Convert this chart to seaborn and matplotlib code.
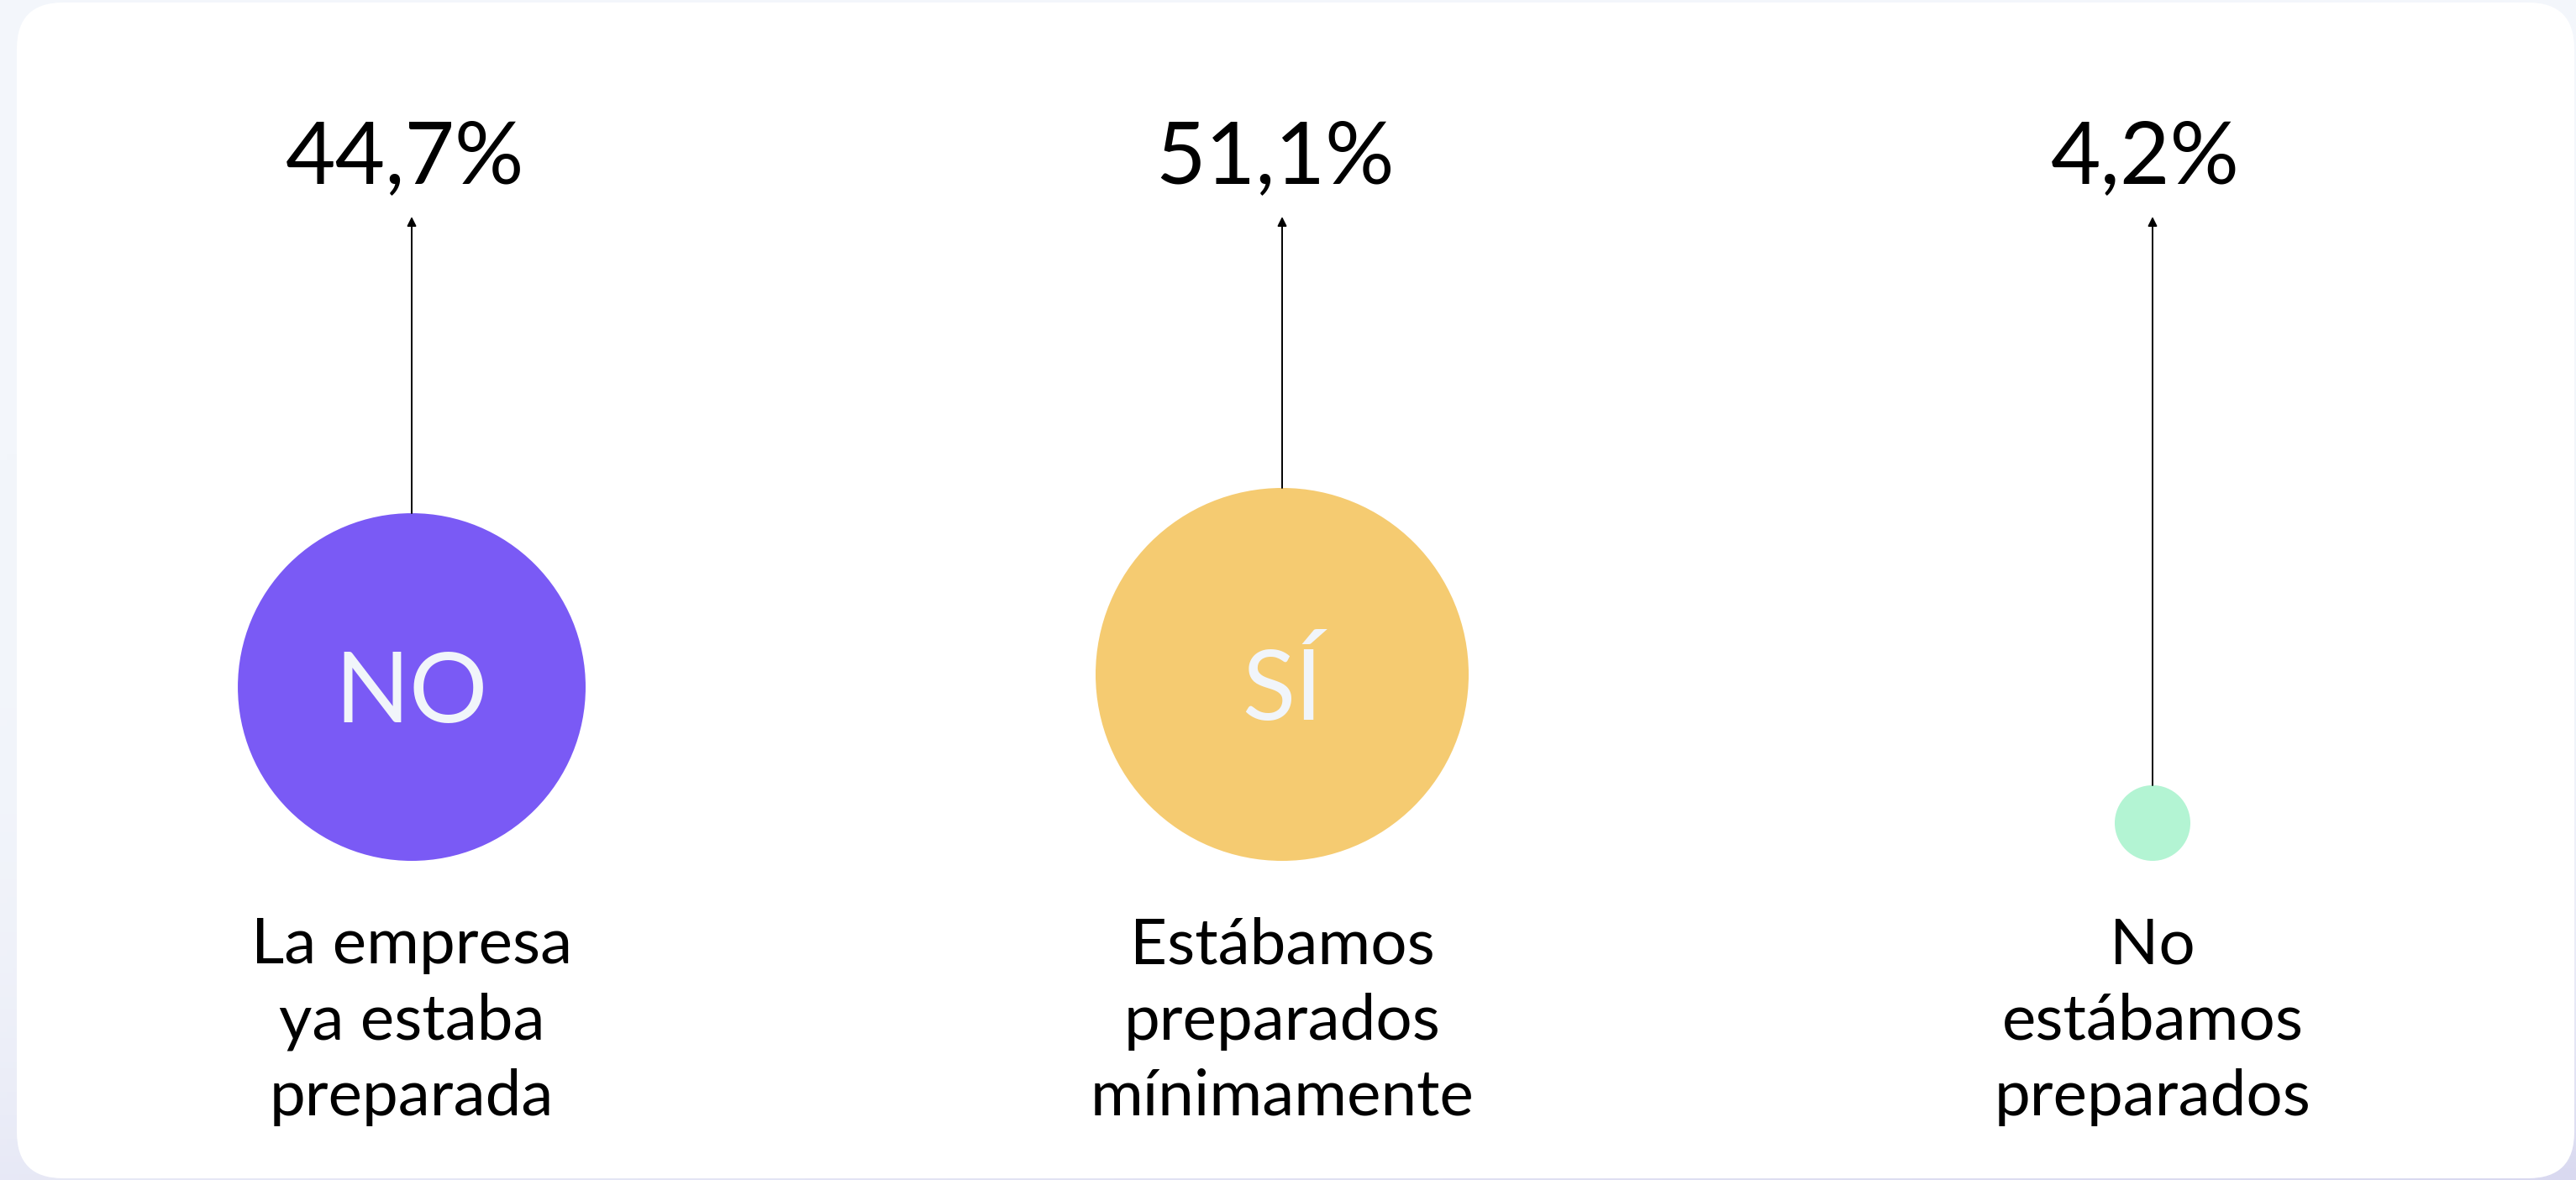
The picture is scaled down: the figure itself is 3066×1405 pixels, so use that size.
import numpy as np
import pandas as pd
import matplotlib.pyplot as plt
import seaborn as sns
from matplotlib.patches import FancyBboxPatch
from matplotlib.transforms import IdentityTransform
from matplotlib.textpath import TextPath
from matplotlib.font_manager import FontProperties
from matplotlib.colors import LinearSegmentedColormap

# Datos del gráfico
categorias = ['NO', 'SÍ', '']
etiquetas = ['La empresa\nya estaba\npreparada',
             'Estábamos\npreparados\nmínimamente',
             'No\nestábamos\npreparados']
porcentajes = [44.7, 51.1, 4.2]
colores = ['#7A5AF5', '#F5CB71', '#B3F4D3']

sns.set_theme(style='white')
plt.rcParams['font.family'] = ['Lato', 'DejaVu Sans']

W, H, DPI = 3066, 1405, 100
fig = plt.figure(figsize=(W / DPI, H / DPI), dpi=DPI)

# fondo con degradado suave
bg = fig.add_axes([0, 0, 1, 1], zorder=0)
yy, xx = np.mgrid[0:1:200j, 0:1:400j]
grad = (yy ** 5) * (0.45 + 0.55 * xx)
cmap_bg = LinearSegmentedColormap.from_list('bg', ['#F3F6FB', '#D9D9F0'])
bg.imshow(grad, cmap=cmap_bg, aspect='auto', extent=(0, 1, 0, 1), origin='upper', vmin=0, vmax=1)
bg.axis('off')

# tarjeta blanca
card = FancyBboxPatch((20, 2), 3044, 1400, boxstyle='round,pad=0,rounding_size=55',
                      transform=IdentityTransform(), fc='white', ec='none', zorder=1)
fig.add_artist(card)

ax = fig.add_axes([0, 0, 1, 1], zorder=2)
ax.patch.set_alpha(0)

df = pd.DataFrame({'pos': range(len(porcentajes)), 'valor': porcentajes,
                   'etiqueta': etiquetas, 'categoria': categorias})

smin, smax = 4200, 102200
base_px = 1025
frac = (df['valor'] - df['valor'].min()) / (df['valor'].max() - df['valor'].min())
df['radio'] = np.sqrt(smin + frac * (smax - smin)) / 2 * DPI / 72
df['y'] = base_px - df['radio']

sns.scatterplot(data=df, x='pos', y='y', hue='etiqueta', palette=colores,
                size='valor', sizes=(smin, smax), legend=False, linewidth=0, ax=ax)

ax.set_xlim(-0.473, 2.4865)
ax.set_ylim(H, 0)
ax.axis('off')

fp_circ = FontProperties(family='Lato', size=84)
for _, r in df.iterrows():
    # línea con flecha hasta el porcentaje
    ax.annotate('', xy=(r['pos'], 258), xytext=(r['pos'], r['y'] - r['radio']),
                arrowprops=dict(arrowstyle='-|>', color='black', lw=1.4,
                                mutation_scale=16, shrinkA=0, shrinkB=0))
    ax.annotate(f"{r['valor']:.1f}%".replace('.', ','), xy=(r['pos'], 218),
                xytext=(-6, 0), textcoords='offset points',
                ha='center', va='baseline', fontsize=74, color='black')
    if r['categoria']:
        bb = TextPath((0, 0), r['categoria'], prop=fp_circ).get_extents()
        mid_px = (bb.y0 + bb.y1) / 2 * DPI / 72
        ax.text(r['pos'], r['y'] + mid_px, r['categoria'], ha='center', va='baseline',
                fontproperties=fp_circ, color='#F1F5FA')
    # la línea base corresponde a la última línea del texto
    ax.text(r['pos'], 1328, r['etiqueta'], ha='center', va='baseline', fontsize=55,
            linespacing=1.38, multialignment='center', color='black')

fig.savefig('out.png', dpi=DPI)
